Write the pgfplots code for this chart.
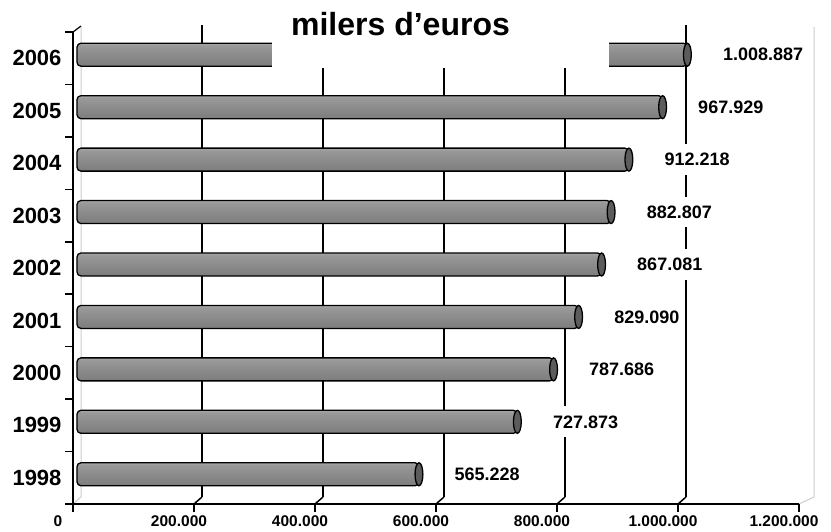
\documentclass[border=0pt]{standalone}
\usepackage{fontspec}
\setmainfont{Liberation Sans}
\usepackage{pgfplots}
\pgfplotsset{compat=1.18}
\usepackage{pgfplotstable}

\definecolor{capgray}{RGB}{92,92,92}
\definecolor{wallgray}{RGB}{205,205,205}
\pgfdeclareverticalshading{barshade}{100bp}{%
  color(0bp)=(black!58); color(30bp)=(black!50); color(55bp)=(black!44);
  color(70bp)=(black!40); color(80bp)=(black!29); color(92bp)=(black!37);
  color(100bp)=(black!40)}

% milers d'euros per year
\pgfplotstableread{
y val label
0 565228 565.228
1 727873 727.873
2 787686 787.686
3 829090 829.090
4 867081 867.081
5 882807 882.807
6 912218 912.218
7 967929 967.929
8 1008887 1.008.887
}\data

\begin{document}
\begin{tikzpicture}[x=1pt,y=1pt]
\path[use as bounding box] (0,0) rectangle (831,532);
% back wall edges
\draw[wallgray, line width=1pt] (73,28) -- (81,35) -- (81,505);
\draw[wallgray, line width=1pt] (799,28) -- (814,35) -- (814,505);
\begin{axis}[
  at={(73pt,28pt)}, anchor=south west,
  width=726pt, height=472pt, scale only axis,
  xmin=0, xmax=1200000, ymin=-0.5, ymax=8.5,
  clip=false,
  separate axis lines,
  axis x line*=bottom, axis y line*=left,
  axis line style={-, black, line width=1.5pt},
  tick align=outside, major tick length=8pt,
  tick style={black, line width=1.5pt},
  xtick={0,200000,400000,600000,800000,1000000,1200000},
  xticklabels={\textbf{0},\textbf{200.000},\textbf{400.000},\textbf{600.000},
    \textbf{800.000},\textbf{1.000.000},\textbf{1.200.000}},
  scaled x ticks=false,
  xticklabel style={font=\fontsize{15.5}{16}\selectfont, xshift=-15pt},
  extra x ticks={200000,400000,600000,800000,1000000},
  extra x tick labels={},
  extra x tick style={grid=major, major tick length=0pt},
  major grid style={black, line width=1.5pt, xshift=8pt, yshift=7pt},
  ytick={-0.5,0.5,1.5,2.5,3.5,4.5,5.5,6.5,7.5,8.5},
  y tick label as interval,
  yticklabels={\textbf{1998},\textbf{1999},\textbf{2000},\textbf{2001},\textbf{2002},
    \textbf{2003},\textbf{2004},\textbf{2005},\textbf{2006}},
  yticklabel style={font=\fontsize{22}{22}\selectfont},
  cyl/.style={xbar, bar width=23pt, bar shift=3.5pt, xshift=4pt,
    draw=black, line width=1.3pt, shading=barshade, rounded corners=4pt},
]
% one plot per bar so that each cylinder gets its own shading
\addplot[cyl, restrict y to domain=-0.2:0.2] table[x=val, y=y] {\data};
\addplot[cyl, restrict y to domain=0.8:1.2] table[x=val, y=y] {\data};
\addplot[cyl, restrict y to domain=1.8:2.2] table[x=val, y=y] {\data};
\addplot[cyl, restrict y to domain=2.8:3.2] table[x=val, y=y] {\data};
\addplot[cyl, restrict y to domain=3.8:4.2] table[x=val, y=y] {\data};
\addplot[cyl, restrict y to domain=4.8:5.2] table[x=val, y=y] {\data};
\addplot[cyl, restrict y to domain=5.8:6.2] table[x=val, y=y] {\data};
\addplot[cyl, restrict y to domain=6.8:7.2] table[x=val, y=y] {\data};
\addplot[cyl, restrict y to domain=7.8:8.2] table[x=val, y=y] {\data};
\addplot[only marks, xshift=4pt, yshift=3.5pt, mark=*, mark size=11.5pt,
  mark options={xscale=0.34, fill=capgray, draw=black, line width=1.3pt},
  point meta=explicit symbolic, nodes near coords={\textbf{\pgfplotspointmeta}},
  every node near coord/.append style={anchor=west, xshift=32pt,
    fill=white, inner xsep=3pt, inner ysep=9pt,
    font=\fontsize{18}{18}\selectfont}]
  table[x=val, y=y, meta=label] {\data};
\draw[black, line width=1.5pt] (axis cs:200000,-0.5) -- ++(8pt,7pt);
\draw[black, line width=1.5pt] (axis cs:400000,-0.5) -- ++(8pt,7pt);
\draw[black, line width=1.5pt] (axis cs:600000,-0.5) -- ++(8pt,7pt);
\draw[black, line width=1.5pt] (axis cs:800000,-0.5) -- ++(8pt,7pt);
\draw[black, line width=1.5pt] (axis cs:1000000,-0.5) -- ++(8pt,7pt);
\draw[black, line width=1.2pt] (axis cs:0,8.5) -- ++(8pt,6pt);
\end{axis}
\fill[white] (272,464) rectangle (609,532);
\node[anchor=base, font=\bfseries\fontsize{32}{32}\selectfont] at (400.5,496) {milers d’euros};
\end{tikzpicture}
\end{document}
